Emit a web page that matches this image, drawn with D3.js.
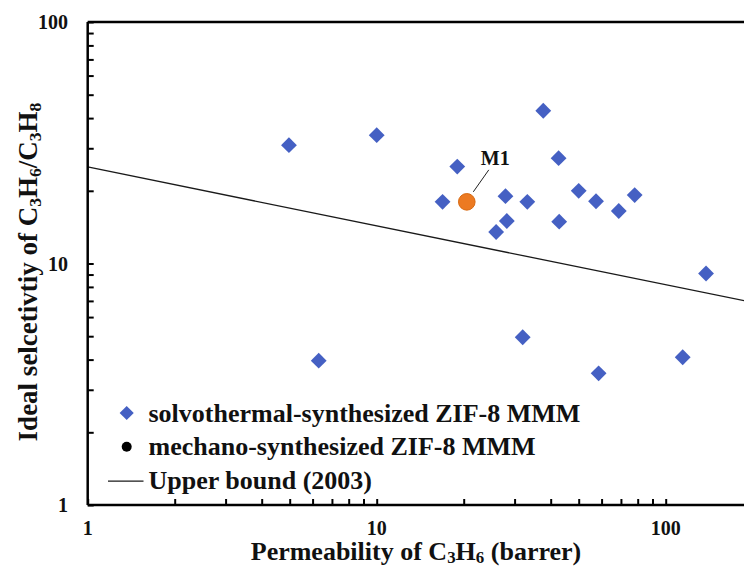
<!DOCTYPE html>
<html>
<head>
<meta charset="utf-8">
<script src="https://cdn.jsdelivr.net/npm/d3@7"></script>
<style>
  html, body { margin: 0; padding: 0; background: #fff; }
  svg { display: block; }
</style>
</head>
<body>
<svg id="chart" width="744" height="569"></svg>
<script>
// Solvothermal-synthesized ZIF-8 mixed-matrix membranes (C3H6 permeability in barrer, C3H6/C3H8 selectivity)
const solvoPermeability = [4.97, 10.0, 37.7, 19.0, 42.6, 16.9, 27.9, 33.2, 28.2, 25.9, 42.8, 50.0, 57.4, 68.8, 78.1, 137.9, 6.30, 32.0, 58.6, 114.5];
const solvoSelectivity  = [30.9, 34.0, 42.9, 25.2, 27.3, 18.0, 19.0, 18.0, 15.0, 13.5, 14.9, 20.0, 18.1, 16.5, 19.2, 9.09, 3.96, 4.95, 3.51, 4.09];

// Mechano-synthesized ZIF-8 membrane M1
const mechanoLabels = ["M1"];
const mechanoPermeability = [20.5];
const mechanoSelectivity = [18.0];

// 2003 upper bound (straight line on log-log axes), end points
const upperBoundPermeability = [1, 200];
const upperBoundSelectivity = [25.1, 6.9];

// Axis ticks
const xTickLabels = [1, 10, 100];
const yTickLabels = [1, 10, 100];
const xTickValues = [1,2,3,4,5,6,7,8,9,10,20,30,40,50,60,70,80,90,100,200];
const yTickValues = [1,2,3,4,5,6,7,8,9,10,20,30,40,50,60,70,80,90,100];

const legendItems = [
  { label: "solvothermal-synthesized ZIF-8 MMM", type: "diamond" },
  { label: "mechano-synthesized ZIF-8 MMM", type: "circle" },
  { label: "Upper bound (2003)", type: "line" }
];

const FONT = "'Liberation Serif', 'DejaVu Serif', serif";

const svg = d3.select("#chart")
  .attr("font-family", FONT)
  .attr("font-weight", "bold");
const plotLeft = 87.7, plotTop = 22, plotBottom = 505;
const decadeX = 289;

const x = d3.scaleLog().domain([1, 200]).range([plotLeft, plotLeft + decadeX * Math.log10(200)]);
const y = d3.scaleLog().domain([1, 100]).range([plotBottom, plotTop]);

const blue = "#4560C3";
const orange = "#EC7A22";

// Upper bound line
svg.append("path")
  .datum(upperBoundPermeability.map((p, i) => [p, upperBoundSelectivity[i]]))
  .attr("fill", "none")
  .attr("stroke", "#1a1a1a")
  .attr("stroke-width", 1.3)
  .attr("d", d3.line().x(d => x(d[0])).y(d => y(d[1])));

// Frame top edge
svg.append("line")
  .attr("x1", plotLeft).attr("x2", 760)
  .attr("y1", plotTop).attr("y2", plotTop)
  .attr("stroke", "#000").attr("stroke-width", 2.5);

// Axes with inward ticks
const xAxis = d3.axisBottom(x).tickValues(xTickValues).tickSize(-6).tickFormat(() => "");
const yAxis = d3.axisLeft(y).tickValues(yTickValues).tickSize(-6).tickFormat(() => "");

const gx = svg.append("g").attr("transform", `translate(0,${plotBottom})`).call(xAxis);
const gy = svg.append("g").attr("transform", `translate(${plotLeft},0)`).call(yAxis);
[gx, gy].forEach(g => {
  g.select(".domain").attr("stroke", "#000").attr("stroke-width", 2.5);
  g.selectAll(".tick line").attr("stroke", "#000").attr("stroke-width", 2);
});
gx.select(".domain").attr("d", `M${plotLeft},0H760`);
gy.select(".domain").attr("d", `M0,${plotBottom}V${plotTop}`);

const textStyle = sel => sel
  .style("font-family", FONT)
  .style("font-weight", "bold")
  .attr("fill", "#111");

// Tick labels
svg.append("g").selectAll("text").data(xTickLabels).join("text")
  .call(textStyle)
  .attr("x", d => x(d)).attr("y", 535)
  .attr("text-anchor", "middle")
  .attr("font-size", 20)
  .text(d => d);

svg.append("g").selectAll("text").data(yTickLabels).join("text")
  .call(textStyle)
  .attr("x", 68).attr("y", d => y(d) + 7)
  .attr("text-anchor", "end")
  .attr("font-size", 20)
  .text(d => d);

// Chemical formula with subscripts
function formula(textSel, parts) {
  parts.forEach(p => {
    const t = textSel.append("tspan").text(p.t);
    if (p.sub) t.attr("baseline-shift", "-20%").attr("font-size", "65%");
  });
}

// Axis titles
const xTitle = svg.append("text")
  .call(textStyle)
  .attr("x", 416).attr("y", 560)
  .attr("text-anchor", "middle")
  .attr("font-size", 26);
formula(xTitle, [{t: "Permeability of C"}, {t: "3", sub: true}, {t: "H"}, {t: "6", sub: true}, {t: " (barrer)"}]);

const yTitle = svg.append("text")
  .call(textStyle)
  .attr("transform", "translate(37,272) rotate(-90)")
  .attr("text-anchor", "middle")
  .attr("font-size", 27);
formula(yTitle, [{t: "Ideal selcetivtiy of C"}, {t: "3", sub: true}, {t: "H"}, {t: "6", sub: true}, {t: "/C"}, {t: "3", sub: true}, {t: "H"}, {t: "8", sub: true}]);

// Solvothermal points (diamonds)
const diamond = d3.symbol().type(d3.symbolSquare).size(125);
svg.append("g").selectAll("path")
  .data(solvoPermeability.map((p, i) => [p, solvoSelectivity[i]]))
  .join("path")
  .attr("d", diamond)
  .attr("transform", d => `translate(${x(d[0])},${y(d[1])}) rotate(45)`)
  .attr("fill", blue);

// Mechano point with leader label
const mech = mechanoPermeability.map((p, i) => ({ p, s: mechanoSelectivity[i], label: mechanoLabels[i] }));
const mg = svg.append("g");
mg.selectAll("line").data(mech).join("line")
  .attr("x1", d => x(d.p) + 6.5).attr("y1", d => y(d.s) - 10)
  .attr("x2", d => x(d.p) + 22).attr("y2", d => y(d.s) - 32)
  .attr("stroke", "#222").attr("stroke-width", 1);
mg.selectAll("circle").data(mech).join("circle")
  .attr("cx", d => x(d.p)).attr("cy", d => y(d.s))
  .attr("r", 8.3)
  .attr("fill", orange).attr("stroke", "#D86A12").attr("stroke-width", 1);
mg.selectAll("text").data(mech).join("text")
  .call(textStyle)
  .attr("x", d => x(d.p) + 28.5).attr("y", d => y(d.s) - 37)
  .attr("text-anchor", "middle")
  .attr("font-size", 20)
  .text(d => d.label);

// Legend
const legend = svg.append("g");
const rows = legend.selectAll("g").data(legendItems).join("g")
  .attr("transform", (d, i) => `translate(0,${421.5 + i * 33.8})`);
rows.append("text")
  .call(textStyle)
  .attr("x", 148.5).attr("y", 0)
  .attr("font-size", 26)
  .text(d => d.label);
rows.filter(d => d.type === "diamond").append("path")
  .attr("d", d3.symbol().type(d3.symbolSquare).size(100))
  .attr("transform", "translate(126.7,-8.5) rotate(45)")
  .attr("fill", blue);
rows.filter(d => d.type === "circle").append("circle")
  .attr("cx", 126.7).attr("cy", -8.5).attr("r", 5)
  .attr("fill", "#000");
rows.filter(d => d.type === "line").append("line")
  .attr("x1", 108).attr("x2", 143.5).attr("y1", -8).attr("y2", -8)
  .attr("stroke", "#1a1a1a").attr("stroke-width", 1.3);
</script>
</body>
</html>
